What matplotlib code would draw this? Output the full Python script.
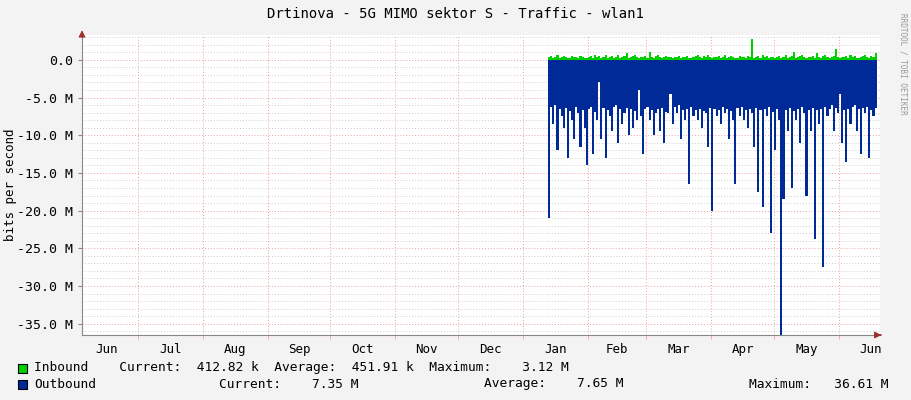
import matplotlib
matplotlib.use("Agg")
import matplotlib.pyplot as plt
import numpy as np

# days since Jun 1 (previous year); one value per day, in Mbit/s
start_day = 226
outbound = [21.0, 6.2, 8.5, 6.0, 12.0, 6.5, 7.5, 9.0, 6.4, 13.0, 6.8, 8.0, 10.5, 6.3, 7.0, 11.5,
            6.6, 9.0, 14.0, 6.5, 6.2, 12.5, 6.9, 8.0, 3.0, 10.5, 6.4, 13.0, 6.7, 7.5, 9.5, 6.3,
            6.0, 11.0, 6.5, 8.5, 7.0, 6.4, 10.0, 6.5, 9.0, 6.8, 8.0, 4.0, 7.5, 12.5, 6.5, 6.3,
            8.0, 6.6, 10.0, 7.0, 6.5, 9.5, 6.4, 11.0, 6.9, 7.0, 4.5, 8.5, 6.3, 7.0, 6.0, 10.5,
            6.7, 8.0, 6.5, 16.5, 6.2, 7.5, 6.6, 8.0, 6.5, 9.0, 6.8, 7.0, 11.5, 6.4, 20.0, 6.5,
            7.5, 6.6, 8.5, 6.3, 7.0, 6.5, 10.5, 6.8, 8.0, 16.5, 6.4, 7.5, 6.3, 8.0, 6.6, 9.0,
            6.5, 7.0, 11.5, 6.4, 17.5, 6.7, 19.5, 6.5, 7.5, 6.3, 23.0, 6.9, 12.0, 6.5, 8.0, 36.5,
            18.5, 6.6, 9.5, 6.4, 17.0, 6.8, 8.0, 6.5, 11.0, 6.3, 7.0, 18.0, 6.6, 9.5, 6.4, 23.8,
            6.7, 8.5, 6.5, 27.5, 6.3, 7.5, 6.5, 6.0, 9.5, 6.4, 7.0, 4.5, 11.0, 6.6, 13.5, 6.5,
            8.5, 6.3, 6.0, 9.5, 6.5, 12.5, 6.4, 7.0, 6.2, 13.0, 6.6, 7.5, 6.4]
inbound = [0.4, 0.5, 0.3, 0.4, 0.6, 0.3, 0.4, 0.5, 0.4, 0.3, 0.3, 0.5, 0.4, 0.4, 0.3, 0.5,
           0.4, 0.3, 0.3, 0.4, 0.5, 0.3, 0.6, 0.4, 0.5, 0.3, 0.4, 0.7, 0.3, 0.4, 0.5, 0.3,
           0.4, 0.6, 0.3, 0.4, 0.5, 0.9, 0.3, 0.4, 0.5, 0.6, 0.4, 0.3, 0.4, 0.4, 0.5, 0.3,
           1.0, 0.4, 0.3, 0.5, 0.6, 0.4, 0.3, 0.4, 0.5, 0.4, 0.4, 0.3, 0.4, 0.4, 0.5, 0.3,
           0.4, 0.4, 0.5, 0.3, 0.3, 0.4, 0.5, 0.6, 0.4, 0.3, 0.5, 0.4, 0.6, 0.4, 0.3, 0.4,
           0.4, 0.5, 0.3, 0.4, 0.6, 0.3, 0.4, 0.5, 0.4, 0.3, 0.3, 0.5, 0.4, 0.4, 0.3, 0.5,
           0.4, 2.8, 0.3, 0.4, 0.5, 0.3, 0.6, 0.4, 0.5, 0.3, 0.4, 0.4, 0.3, 0.4, 0.5, 0.3,
           0.4, 0.6, 0.3, 0.4, 0.5, 1.1, 0.3, 0.4, 0.5, 0.6, 0.4, 0.3, 0.4, 0.4, 0.5, 0.3,
           0.9, 0.4, 0.3, 0.5, 0.6, 0.4, 0.3, 0.4, 0.5, 1.5, 0.4, 0.3, 0.4, 0.4, 0.5, 0.3,
           0.6, 0.4, 0.5, 0.3, 0.3, 0.4, 0.5, 0.6, 0.4, 0.3, 0.5, 0.4, 0.9, 0.4, 0.3]
months = ["Jun", "Jul", "Aug", "Sep", "Oct", "Nov", "Dec", "Jan", "Feb", "Mar", "Apr", "May", "Jun"]
month_starts = [0, 30, 61, 92, 122, 153, 183, 214, 245, 273, 304, 334, 365, 395]

mono = "DejaVu Sans Mono"
fig = plt.figure(figsize=(9.11, 4.0), dpi=100)
fig.patch.set_facecolor("#f3f3f3")
ax = fig.add_axes([82/911, 65/400, 798/911, 300/400])
ax.set_facecolor("white")
x0, x1 = 3.3, 384.6
ax.set_xlim(x0, x1)
ax.set_ylim(-36.5, 3.3)

n = min(len(outbound), len(inbound))
days = start_day + np.arange(n)
edges = np.append(days, days[-1] + 1)
ob = -np.array(outbound[:n])
ib = np.array(inbound[:n])
ax.stairs(ob, edges, baseline=0, fill=True, color="#002a97", zorder=3)
ax.stairs(ib, edges, baseline=0, fill=True, color="#00cf00", zorder=3)

# grid
for y in np.arange(-36, 4, 1):
    if y % 5 != 0:
        ax.axhline(y, color="#cccccc", lw=0.7, ls=(0, (1, 2)), zorder=1)
for y in range(-35, 1, 5):
    ax.axhline(y, color="#f0a0a0", lw=0.7, ls=(0, (1, 2)), zorder=2)
for d in month_starts:
    if x0 < d < x1:
        ax.axvline(d, color="#f0a0a0", lw=0.7, ls=(0, (1, 2)), zorder=2)

ax.set_yticks(list(range(-35, 1, 5)))
ax.set_yticklabels(["0.0" if v == 0 else f"{v:.1f} M" for v in range(-35, 1, 5)],
                   fontfamily=mono, fontsize=9.5)
mids = [(month_starts[i] + month_starts[i+1]) / 2 for i in range(len(months))]
ax.set_xticks(mids)
ax.set_xticklabels(months, fontfamily=mono, fontsize=9)
ax.set_xticks([d for d in month_starts if x0 < d < x1], minor=True)
ax.tick_params(axis="x", which="major", length=0, pad=6)
ax.tick_params(axis="x", which="minor", length=3, color="#f0a0a0")
ax.tick_params(axis="y", length=3, color="#888888")
for s in ["top", "right"]:
    ax.spines[s].set_visible(False)
ax.spines["left"].set_color("#888888")
ax.spines["bottom"].set_color("#888888")
ax.annotate("", xy=(x1 + 2, -36.5), xytext=(x1 - 1, -36.5), annotation_clip=False,
            arrowprops=dict(arrowstyle="-|>", color="#a03030", lw=0.8))
ax.annotate("", xy=(x0, 4.3), xytext=(x0, 3.0), annotation_clip=False,
            arrowprops=dict(arrowstyle="-|>", color="#a03030", lw=0.8))
fig.text(11/911, 0.5 + 15/400, "bits per second", rotation=90, ha="center", va="center",
         fontfamily=mono, fontsize=9)

fig.text(455/911, 1 - 14/400, "Drtinova - 5G MIMO sektor S - Traffic - wlan1",
         ha="center", va="center", fontfamily=mono, fontsize=10)
fig.text(903/911, 0.84, "RRDTOOL / TOBI OETIKER", rotation=270, ha="center", va="center",
         fontfamily=mono, fontsize=5.5, color="#999999")

# legend
fig.patches.append(plt.Rectangle((18/911, 1 - 373/400), 9/911, 9/400, transform=fig.transFigure,
                                 facecolor="#00cf00", edgecolor="black", lw=0.8))
fig.patches.append(plt.Rectangle((18/911, 1 - 389/400), 9/911, 9/400, transform=fig.transFigure,
                                 facecolor="#002a97", edgecolor="black", lw=0.8))
fig.text(34/911, 1 - 368/400, "Inbound    Current:  412.82 k  Average:  451.91 k  Maximum:    3.12 M",
         va="center", fontfamily=mono, fontsize=9.3)
fig.text(34/911, 1 - 384/400, "Outbound", va="center", fontfamily=mono, fontsize=9.3)
fig.text(219/911, 1 - 384/400, "Current:    7.35 M", va="center", fontfamily=mono, fontsize=9.3)
fig.text(484/911, 1 - 384/400, "Average:    7.65 M", va="center", fontfamily=mono, fontsize=9.3)
fig.text(749/911, 1 - 384/400, "Maximum:   36.61 M", va="center", fontfamily=mono, fontsize=9.3)

fig.savefig("out.png", dpi=100, facecolor=fig.get_facecolor())
